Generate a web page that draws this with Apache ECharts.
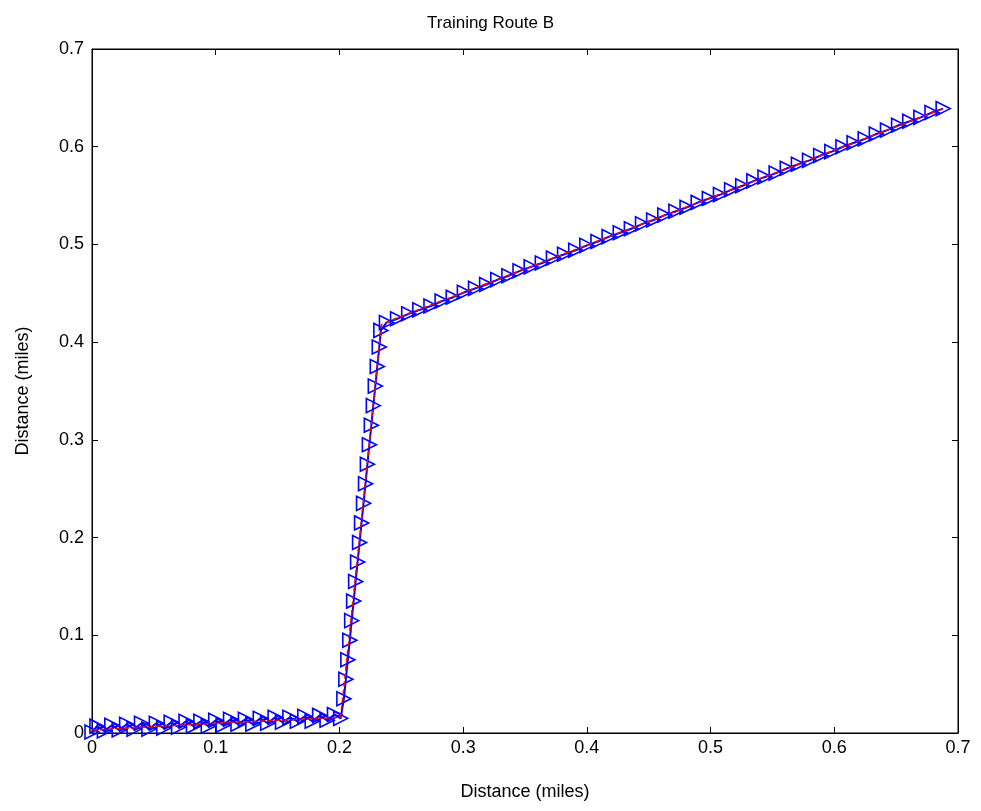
<!DOCTYPE html>
<html>
<head>
<meta charset="utf-8">
<script src="https://cdn.jsdelivr.net/npm/echarts@6/dist/echarts.min.js"></script>
<style>
  html, body { margin: 0; padding: 0; background: #fff; }
  #main { width: 981px; height: 811px; }
</style>
</head>
<body>
<div id="main"></div>
<script>
// route trace (red dashed) - vertices
var routeLine = [
	[0.000, 0.003], [0.100, 0.010], [0.201, 0.016], [0.218, 0.220],
	[0.234, 0.418], [0.245, 0.424], [0.690, 0.640]
];

// sampled points (blue triangles)
var samplesFlat = [
	[0.000, 0.001], [0.004, 0.007], [0.010, 0.002], [0.016, 0.008], [0.022, 0.003],
	[0.028, 0.009], [0.034, 0.004], [0.040, 0.010], [0.046, 0.004], [0.052, 0.010],
	[0.058, 0.005], [0.064, 0.011], [0.070, 0.006], [0.076, 0.012], [0.082, 0.007],
	[0.088, 0.012], [0.094, 0.007], [0.100, 0.013], [0.106, 0.008], [0.112, 0.014],
	[0.118, 0.009], [0.124, 0.014], [0.130, 0.009], [0.136, 0.015], [0.142, 0.010],
	[0.148, 0.016], [0.154, 0.011], [0.160, 0.016], [0.166, 0.012], [0.172, 0.017],
	[0.178, 0.012], [0.184, 0.018], [0.190, 0.013], [0.196, 0.019], [0.201, 0.015]
];

var samplesClimb = [
	[0.2036, 0.035], [0.2052, 0.055], [0.2068, 0.075], [0.2084, 0.095], [0.2099, 0.115],
	[0.2115, 0.135], [0.2131, 0.155], [0.2147, 0.175], [0.2163, 0.195], [0.2179, 0.215],
	[0.2195, 0.235], [0.2211, 0.255], [0.2226, 0.275], [0.2242, 0.295], [0.2258, 0.315],
	[0.2274, 0.335], [0.2290, 0.355], [0.2306, 0.375], [0.2322, 0.395], [0.2335, 0.412]
];

var samplesUpper = [
	[0.238, 0.420], [0.247, 0.424], [0.256, 0.429], [0.265, 0.433], [0.274, 0.437],
	[0.283, 0.442], [0.292, 0.446], [0.301, 0.451], [0.310, 0.455], [0.319, 0.459],
	[0.328, 0.464], [0.337, 0.468], [0.346, 0.473], [0.355, 0.477], [0.364, 0.481],
	[0.373, 0.486], [0.382, 0.490], [0.391, 0.494], [0.400, 0.499], [0.409, 0.503],
	[0.418, 0.508], [0.427, 0.512], [0.436, 0.516], [0.445, 0.521], [0.454, 0.525],
	[0.463, 0.530], [0.472, 0.534], [0.481, 0.538], [0.490, 0.543], [0.499, 0.547],
	[0.508, 0.551], [0.517, 0.556], [0.526, 0.560], [0.535, 0.565], [0.544, 0.569],
	[0.553, 0.573], [0.562, 0.578], [0.571, 0.582], [0.580, 0.586], [0.589, 0.591],
	[0.598, 0.595], [0.607, 0.600], [0.616, 0.604], [0.625, 0.608], [0.634, 0.613],
	[0.643, 0.617], [0.652, 0.622], [0.661, 0.626], [0.670, 0.630], [0.679, 0.635],
	[0.688, 0.639]
];

var axisMin = 0;
var axisMax = 0.7;
var axisStep = 0.1;

var samples = samplesFlat.concat(samplesClimb).concat(samplesUpper);

var font = 'Liberation Sans, Arial, sans-serif';

function tickFmt(v) {
	return v === 0 ? '0' : v.toFixed(1);
}

var chart = echarts.init(document.getElementById('main'));
var option = {
	animation: false,
	backgroundColor: '#fff',
	title: {
		text: 'Training Route B',
		left: 'center',
		top: 10,
		textStyle: { color: '#000', fontSize: 17, fontWeight: 'normal', fontFamily: font }
	},
	grid: {
		left: 92, right: 23, top: 49, bottom: 78,
		show: true, borderColor: '#000', borderWidth: 1, backgroundColor: '#fff'
	},
	xAxis: [{
		type: 'value', min: axisMin, max: axisMax, interval: axisStep,
		name: 'Distance (miles)', nameLocation: 'middle', nameGap: 50,
		nameTextStyle: { color: '#000', fontSize: 18, fontFamily: font },
		axisLine: { show: true, onZero: false, lineStyle: { color: '#000', width: 1 } },
		axisTick: { show: true, inside: true, length: 6, lineStyle: { color: '#000' } },
		axisLabel: { color: '#000', fontSize: 18, fontFamily: font, margin: 6, formatter: tickFmt },
		splitLine: { show: false }
	}, {
		type: 'value', min: axisMin, max: axisMax, interval: axisStep, position: 'top',
		axisLine: { show: true, onZero: false, lineStyle: { color: '#000', width: 1 } },
		axisTick: { show: true, inside: true, length: 6, lineStyle: { color: '#000' } },
		axisLabel: { show: false },
		splitLine: { show: false }
	}],
	yAxis: [{
		type: 'value', min: axisMin, max: axisMax, interval: axisStep,
		name: 'Distance (miles)', nameLocation: 'middle', nameGap: 60,
		nameTextStyle: { color: '#000', fontSize: 18, fontFamily: font },
		axisLine: { show: true, onZero: false, lineStyle: { color: '#000', width: 1 } },
		axisTick: { show: true, inside: true, length: 6, lineStyle: { color: '#000' } },
		axisLabel: { color: '#000', fontSize: 18, fontFamily: font, margin: 8, formatter: tickFmt },
		splitLine: { show: false }
	}, {
		type: 'value', min: axisMin, max: axisMax, interval: axisStep, position: 'right',
		axisLine: { show: true, onZero: false, lineStyle: { color: '#000', width: 1 } },
		axisTick: { show: true, inside: true, length: 6, lineStyle: { color: '#000' } },
		axisLabel: { show: false },
		splitLine: { show: false }
	}],
	series: [{
		name: 'samples',
		type: 'line',
		data: samples,
		showSymbol: true,
		symbol: 'triangle',
		symbolRotate: -90,
		symbolSize: [14, 14],
		lineStyle: { color: '#0000ff', width: 2 },
		itemStyle: { color: 'rgba(255,255,255,0)', borderColor: '#0000ff', borderWidth: 1.6, opacity: 1 },
		z: 2
	}, {
		name: 'route',
		type: 'line',
		data: routeLine,
		showSymbol: false,
		symbol: 'none',
		lineStyle: { color: '#ff0000', width: 1.5, type: [5, 3] },
		z: 3
	}]
};
chart.setOption(option);
</script>
</body>
</html>
